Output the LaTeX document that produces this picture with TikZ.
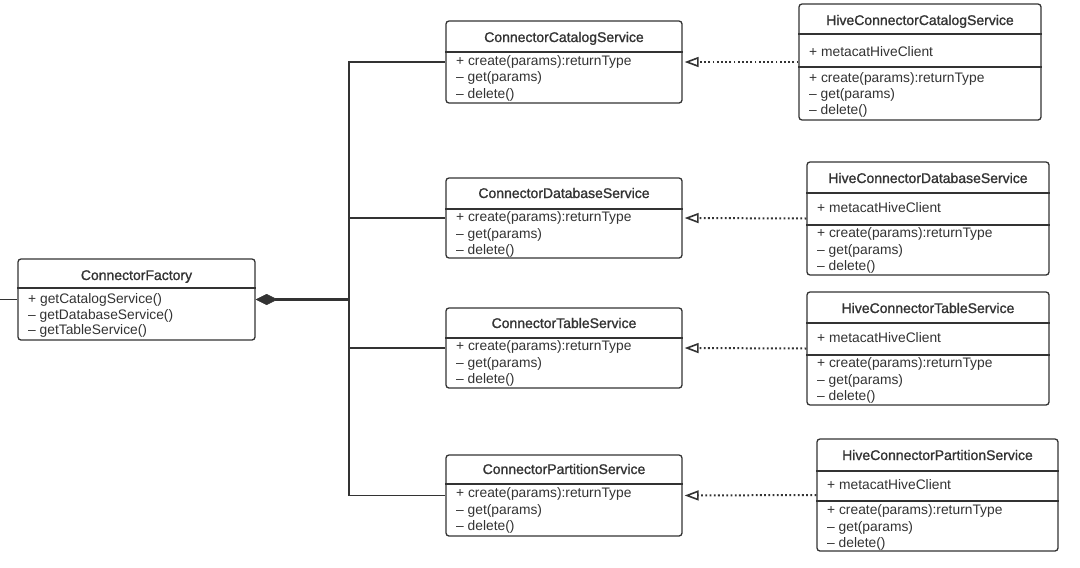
\documentclass[tikz,border=0pt]{standalone}
\usepackage{fontspec}
\setmainfont{Liberation Sans}
\usetikzlibrary{arrows.meta}
\definecolor{ink}{HTML}{333333}
\begin{document}
\begin{tikzpicture}[x=1pt,y=-1pt,
  box/.style={draw=ink, line width=1.3pt, rounded corners=3pt, rectangle, inner sep=0pt},
  ttl/.style={font=\fontsize{14}{16}\selectfont\addfontfeature{FakeBold=1.2}, text=ink, anchor=base, inner sep=0pt},
  itm/.style={font=\fontsize{13.8}{16}\selectfont, text=ink, anchor=base west, inner sep=0pt},
  sep/.style={draw=ink, line width=1.3pt},
  link/.style={draw=ink, line width=1.5pt},
  comp/.style={draw=ink, line width=2.3pt, {Diamond[length=22pt, width=11pt, fill=ink, line width=0.5pt]}-},
  realize/.style={draw=ink, line width=2pt, dash pattern=on 1.8pt off 2.4pt,
    -{Triangle[open, length=14pt, width=10pt, line width=1.6pt]}, shorten >=2pt}
]
\fill[white] (0,0) rectangle (1080,568);
\useasboundingbox (0,0) rectangle (1080,568);

% ---------- ConnectorFactory ----------
\node[box, minimum width=237pt, minimum height=81pt] (fac) at (136.5,299.5) {};
\draw[sep] (fac.west |- 0,288) -- (fac.east |- 0,288);
\node[ttl] (fac-t) at (136.5,280) {ConnectorFactory};
\node[itm] (fac-1) at (28,303.5) {+ getCatalogService()};
\node[itm] (fac-2) at (28,319) {– getDatabaseService()};
\node[itm] (fac-3) at (28,334.5) {– getTableService()};

% ---------- Connector services ----------
\node[box, minimum width=236pt, minimum height=82pt] (cat) at (564,62) {};
\draw[sep] (cat.west |- 0,52) -- (cat.east |- 0,52);
\node[ttl] (cat-t) at (564,42) {ConnectorCatalogService};
\node[itm] (cat-1) at (456,65) {+ create(params):returnType};
\node[itm] (cat-2) at (456,81.5) {– get(params)};
\node[itm] (cat-3) at (456,98) {– delete()};

\node[box, minimum width=236pt, minimum height=80pt] (db) at (564,218) {};
\draw[sep] (db.west |- 0,209) -- (db.east |- 0,209);
\node[ttl] (db-t) at (564,198) {ConnectorDatabaseService};
\node[itm] (db-1) at (456,221.5) {+ create(params):returnType};
\node[itm] (db-2) at (456,238) {– get(params)};
\node[itm] (db-3) at (456,254.5) {– delete()};

\node[box, minimum width=236pt, minimum height=80pt] (tb) at (564,348) {};
\draw[sep] (tb.west |- 0,338) -- (tb.east |- 0,338);
\node[ttl] (tb-t) at (564,328) {ConnectorTableService};
\node[itm] (tb-1) at (456,350.5) {+ create(params):returnType};
\node[itm] (tb-2) at (456,367) {– get(params)};
\node[itm] (tb-3) at (456,383.5) {– delete()};

\node[box, minimum width=236pt, minimum height=81pt] (pt) at (564,495.5) {};
\draw[sep] (pt.west |- 0,484) -- (pt.east |- 0,484);
\node[ttl] (pt-t) at (564,474) {ConnectorPartitionService};
\node[itm] (pt-1) at (456,497.5) {+ create(params):returnType};
\node[itm] (pt-2) at (456,514) {– get(params)};
\node[itm] (pt-3) at (456,530.5) {– delete()};

% ---------- Hive services ----------
\node[box, minimum width=242pt, minimum height=116pt] (hcat) at (920,62) {};
\draw[sep] (hcat.west |- 0,34) -- (hcat.east |- 0,34);
\draw[sep] (hcat.west |- 0,67) -- (hcat.east |- 0,67);
\node[ttl] (hcat-t) at (920,25) {HiveConnectorCatalogService};
\node[itm] (hcat-0) at (809,56.5) {+ metacatHiveClient};
\node[itm] (hcat-1) at (809,82) {+ create(params):returnType};
\node[itm] (hcat-2) at (809,98.5) {– get(params)};
\node[itm] (hcat-3) at (809,114.5) {– delete()};

\node[box, minimum width=242pt, minimum height=113pt] (hdb) at (928,218.5) {};
\draw[sep] (hdb.west |- 0,193) -- (hdb.east |- 0,193);
\draw[sep] (hdb.west |- 0,225) -- (hdb.east |- 0,225);
\node[ttl] (hdb-t) at (928,183) {HiveConnectorDatabaseService};
\node[itm] (hdb-0) at (817,212.5) {+ metacatHiveClient};
\node[itm] (hdb-1) at (817,237.5) {+ create(params):returnType};
\node[itm] (hdb-2) at (817,254) {– get(params)};
\node[itm] (hdb-3) at (817,270) {– delete()};

\node[box, minimum width=242pt, minimum height=113pt] (htb) at (928,348.5) {};
\draw[sep] (htb.west |- 0,323) -- (htb.east |- 0,323);
\draw[sep] (htb.west |- 0,355) -- (htb.east |- 0,355);
\node[ttl] (htb-t) at (928,313) {HiveConnectorTableService};
\node[itm] (htb-0) at (817,342.5) {+ metacatHiveClient};
\node[itm] (htb-1) at (817,367.5) {+ create(params):returnType};
\node[itm] (htb-2) at (817,384) {– get(params)};
\node[itm] (htb-3) at (817,400) {– delete()};

\node[box, minimum width=241pt, minimum height=112pt] (hpt) at (937.5,495) {};
\draw[sep] (hpt.west |- 0,471) -- (hpt.east |- 0,471);
\draw[sep] (hpt.west |- 0,501) -- (hpt.east |- 0,501);
\node[ttl] (hpt-t) at (937.5,460) {HiveConnectorPartitionService};
\node[itm] (hpt-0) at (827,489.5) {+ metacatHiveClient};
\node[itm] (hpt-1) at (827,514.5) {+ create(params):returnType};
\node[itm] (hpt-2) at (827,531) {– get(params)};
\node[itm] (hpt-3) at (827,547.5) {– delete()};

% ---------- Connectors ----------
\coordinate (stub) at (0,299.5);
\coordinate (hub) at (349,299.5);
\draw[link] (stub) -- (fac.west);
\draw[comp] (fac.east) -- (hub);
\draw[link] (hub) |- (cat.west);
\draw[link] (hub) |- (db.west);
\draw[link] (hub) |- (tb.west);
\draw[link] (hub) |- (pt.west);

\draw[realize] (hcat.west) -- (cat.east);
\draw[realize] (hdb.west) -- (db.east);
\draw[realize] (htb.west) -- (tb.east);
\draw[realize] (hpt.west) -- (pt.east);
\end{tikzpicture}
\end{document}
